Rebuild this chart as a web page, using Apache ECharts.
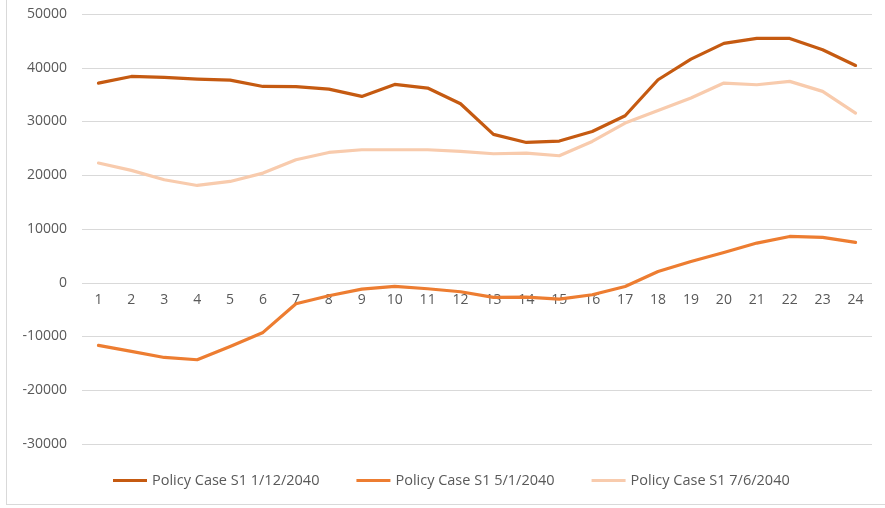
<!DOCTYPE html>
<html>
<head>
<meta charset="utf-8">
<script src="https://cdn.jsdelivr.net/npm/echarts@6/dist/echarts.min.js"></script>
<style>
  html, body { margin: 0; padding: 0; background: #fff; }
  #frame {
    position: absolute; left: 6px; top: -2px; width: 885px; height: 507px;
    border-left: 1px solid #d9d9d9; border-bottom: 1px solid #d9d9d9;
    box-sizing: border-box;
  }
  #chart { position: absolute; left: 0; top: 0; width: 885px; height: 508px; }
</style>
</head>
<body>
<div id="frame"></div>
<div id="chart"></div>
<script>
// hours on the x axis
const hours = ["1","2","3","4","5","6","7","8","9","10","11","12",
  "13","14","15","16","17","18","19","20","21","22","23","24"];

const seriesNames = ["Policy Case S1 1/12/2040", "Policy Case S1 5/1/2040", "Policy Case S1 7/6/2040"];

const jan12 = [37150, 38380, 38200, 37900, 37700, 36520, 36500, 36030, 34670, 36900, 36220, 33300,
  27600, 26100, 26360, 28150, 31070, 37770, 41600, 44530, 45460, 45460, 43350, 40430];
const may1 = [-11660, -12780, -13900, -14330, -11850, -9240, -3900, -2420, -1180, -690, -1120, -1670,
  -2730, -2670, -3040, -2230, -690, 2100, 3960, 5640, 7380, 8610, 8430, 7500];
const jul6 = [22270, 20900, 19160, 18100, 18850, 20400, 22880, 24240, 24740, 24740, 24740, 24430,
  24000, 24120, 23630, 26290, 29700, 32060, 34360, 37150, 36840, 37460, 35600, 31570];

const colors = ["#C55A11", "#ED7D31", "#F8CBAD"];
const font = "'Open Sans', 'Liberation Sans', sans-serif";

let myChart = echarts.init(document.getElementById("chart"));

function line(name, data, color) {
  return {
    name: name,
    type: "line",
    data: data,
    symbol: "none",
    smooth: false,
    lineStyle: { color: color, width: 3.2, cap: "round", join: "round" },
    itemStyle: { color: color }
  };
}

myChart.setOption({
  animation: false,
  color: colors,
  grid: { left: 82, right: 13, top: 14, bottom: 64 },
  legend: {
    bottom: 15,
    left: 108,
    itemGap: 37,
    itemWidth: 34,
    itemHeight: 3,
    icon: "rect",
    selectedMode: false,
    textStyle: { color: "#595959", fontSize: 14.5, fontFamily: font },
    data: seriesNames
  },
  xAxis: {
    type: "category",
    data: hours,
    boundaryGap: true,
    position: "bottom",
    offset: -161,
    axisLine: { onZero: false, show: false },
    axisTick: { show: false },
    axisLabel: { color: "#595959", fontSize: 14, fontFamily: font, margin: 10 }
  },
  yAxis: {
    type: "value",
    min: -30000,
    max: 50000,
    interval: 10000,
    axisLine: { show: false },
    axisTick: { show: false },
    axisLabel: { color: "#595959", fontSize: 14, fontFamily: font, margin: 15,
      formatter: function (v) { return String(v); } },
    splitLine: { lineStyle: { color: "#d9d9d9", width: 1 } }
  },
  series: [
    line(seriesNames[0], jan12, colors[0]),
    line(seriesNames[1], may1, colors[1]),
    line(seriesNames[2], jul6, colors[2])
  ]
});
</script>
</body>
</html>
